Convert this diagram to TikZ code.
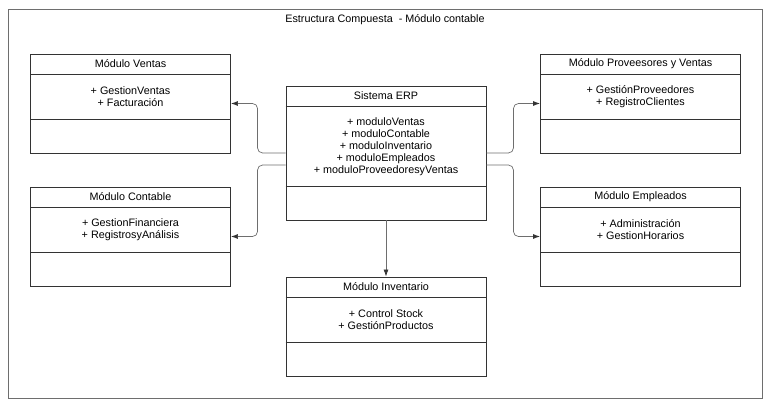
\documentclass[tikz,border=0pt]{standalone}
\usepackage{fontspec}
\setmainfont{Liberation Sans}
\usetikzlibrary{arrows.meta}

\definecolor{boxgray}{HTML}{333333}
\definecolor{linegray}{HTML}{6E6E6E}

\tikzset{
    classframe/.style={draw=boxgray, line width=0.9pt, minimum width=200pt, inner sep=0pt},
    classtext/.style={font=\fontsize{10.8}{12}\selectfont, align=center, text=black},
    link/.style={draw=linegray, line width=0.7pt, rounded corners=5pt,
        -{Latex[length=7pt,width=5pt,fill=boxgray,color=boxgray]}}
}

\newcommand{\classbox}[6]{%
    \node[classframe, minimum height=54pt+#5pt] (#1) at (#2, {#3+(54+#5)/2}) {};
    \draw[boxgray, line width=0.9pt] ([yshift=-21pt]#1.north west) -- ([yshift=-21pt]#1.north east);
    \draw[boxgray, line width=0.9pt] ([yshift=-21pt-#5pt]#1.north west) -- ([yshift=-21pt-#5pt]#1.north east);
    \node[classtext] (#1-title) at ([yshift=-10.5pt]#1.north) {#4};
    \node[classtext] (#1-attrs) at ([yshift=-21pt-#5pt/2]#1.north) {#6};
}

\begin{document}
\begin{tikzpicture}[x=1pt, y=-1pt]
            \useasboundingbox (0,0) rectangle (769,403);
            \node[draw=linegray, line width=0.9pt, minimum width=754pt, minimum height=389pt, inner sep=0pt] (frame) at (385.5,203.5) {};
            \node[classtext] (title) at (385,20) {Estructura Compuesta\ \ - Módulo contable};

            \classbox{ventas}{130.5}{54}{Módulo Ventas}{45}{+ GestionVentas\\+ Facturación}
            \classbox{contable}{130.5}{187}{Módulo Contable}{45}{+ GestionFinanciera\\+ RegistrosyAnálisis}
            \classbox{erp}{386}{86}{Sistema ERP}{80}{+ moduloVentas\\+ moduloContable\\+ moduloInventario\\+ moduloEmpleados\\+ moduloProveedoresyVentas}
            \classbox{proveedores}{640.5}{54}{Módulo Proveesores y Ventas}{45}{+ GestiónProveedores\\+ RegistroClientes}
            \classbox{empleados}{640.5}{187}{Módulo Empleados}{45}{+ Administración\\+ GestionHorarios}
            \classbox{inventario}{386}{277}{Módulo Inventario}{45}{+ Control Stock\\+ GestiónProductos}

            \draw[link] (erp.west) -- ++(-28,0) |- (ventas.east);
            \draw[link] ([yshift=-12pt]erp.west) -- ++(-28,0) |- (contable.east);
            \draw[link] (erp.east) -- ++(27,0) |- (proveedores.west);
            \draw[link] ([yshift=-12pt]erp.east) -- ++(27,0) |- (empleados.west);
            \draw[link] (erp.south) -- (inventario.north);
        \end{tikzpicture}
\end{document}
